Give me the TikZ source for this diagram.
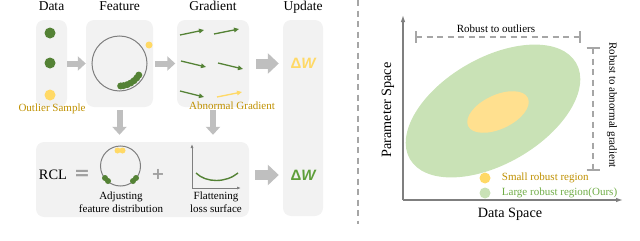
\documentclass[tikz,border=0pt]{standalone}
\usepackage{fontspec}
\setmainfont{Liberation Serif}
\setsansfont{Liberation Sans}
\newfontfamily\symfont{DejaVu Sans}
\usepackage{xcolor}
\usepackage{tikz}
\usetikzlibrary{positioning,arrows.meta,calc}
\definecolor{boxgray}{HTML}{F2F2F2}
\definecolor{arrgray}{HTML}{BFBFBF}
\definecolor{opgray}{HTML}{A0A0A0}
\definecolor{dkgreen}{HTML}{548235}
\definecolor{ltgreen}{HTML}{C9E2B6}
\definecolor{sunny}{HTML}{FFD966}
\definecolor{paleyel}{HTML}{FFE08F}
\definecolor{gold}{HTML}{BF9000}
\definecolor{leafgreen}{HTML}{70AD47}
\definecolor{dwgreen}{HTML}{5E9E3A}
\definecolor{axgray}{HTML}{7F7F7F}
\definecolor{dashgray}{HTML}{A6A6A6}

\begin{document}
\begin{tikzpicture}[x=1pt,y=-1pt,
  panel/.style={fill=boxgray, rounded corners=8pt, inner sep=0pt},
  ttl/.style={font=\fontsize{13.5}{14}\selectfont, inner sep=0pt, text height=9.5pt, text depth=3pt},
  lab/.style={font=\fontsize{11}{13}\selectfont, inner sep=0pt, align=center},
  axl/.style={font=\fontsize{14.2}{16}\selectfont, inner sep=0pt},
  blk/.style={draw=arrgray, line width=6pt, -{Triangle[length=8pt,width=14pt]}},
  bigblk/.style={draw=arrgray, line width=10pt, -{Triangle[length=11pt,width=20pt]}},
  grad/.style={draw=dkgreen, line width=1.3pt, -{Triangle[length=5pt,width=4.5pt]}},
  gdot/.style={circle, fill=dkgreen, minimum size=11pt, inner sep=0pt},
  ydot/.style={circle, fill=sunny, minimum size=11pt, inner sep=0pt},
  ring/.style={circle, draw=axgray, line width=1pt, inner sep=0pt},
  delta/.style={font=\fontsize{15}{15}\selectfont\sffamily\bfseries, inner sep=0pt},
  op/.style={text=opgray, inner sep=0pt},
  axis/.style={draw=axgray, line width=1.2pt, -{Latex[length=7pt,width=4.5pt]}},
  thinax/.style={draw=axgray, line width=0.8pt, -{Latex[length=4pt,width=3pt]}},
  brk/.style={draw=dashgray, line width=1.3pt, dash pattern=on 6pt off 4.5pt},
  tick/.style={draw=dashgray, line width=1.3pt}]
\useasboundingbox (0,0) rectangle (640,241);

\node[panel, minimum width=31pt, minimum height=87pt] (dbox) at (51.5,63.5) {};
\node[panel, minimum width=67pt, minimum height=87pt] (fbox) at (119.5,63.5) {};
\node[panel, minimum width=72pt, minimum height=87pt] (gbox) at (213,63.5) {};
\node[panel, minimum width=40pt, minimum height=196pt] (ubox) at (303,118) {};
\node[panel, minimum width=213pt, minimum height=75pt] (rbox) at (142.5,179.5) {};

\node[ttl, above=6pt of dbox] (tdata) {Data};
\node[ttl, above=6pt of fbox] (tfeat) {Feature};
\node[ttl, above=6pt of gbox] (tgrad) {Gradient};
\node[ttl, above=6pt of ubox] (tupd) {Update};

% data column
\node[gdot] (d1) at (50,33) {};
\node[gdot] (d2) at (50,63) {};
\node[ydot] (d3) at (50,95) {};
\node[lab, text=gold] (outl) at (52,109) {Outlier Sample};

% feature column
\node[ring, minimum size=55pt] (fc) at (fbox.center) {};
\foreach \a in {31,40,50,60,70,80,87}
  \fill[dkgreen] ($(fc.center)+(\a:22.5)$) circle (3.5pt);
\fill[sunny] (149,45) circle (3.5pt);

% gradient column
\draw[grad] (180,35) -- (204,30);
\draw[grad] (214,34) -- (239,29);
\draw[grad] (181,61) -- (206,67);
\draw[grad] (218,63) -- (243,69);
\draw[grad] (180,91) -- (204,97);
\draw[grad, draw=sunny] (217,97) -- (242,92);
\node[lab, text=gold] (abn) at (232,106) {Abnormal Gradient};

\draw[blk] (dbox) -- (fbox);
\draw[blk, shorten <=2pt, shorten >=1.5pt] (fbox) -- (gbox);
\draw[bigblk, shorten <=7pt, shorten >=4pt] (gbox.east) -- (gbox.east -| ubox.west);
\node[delta, text=sunny] (dw1) at (ubox.center |- gbox.center) {Δ\itshape W};

\draw[blk, shorten <=3pt, shorten >=7pt] (fbox.south) -- (fbox.south |- rbox.north);
\draw[blk, shorten <=3pt, shorten >=7pt] (gbox.south) -- (gbox.south |- rbox.north);

% RCL row
\node[font=\fontsize{14.4}{16}\selectfont, inner sep=0pt] (rcl) at (53,175) {RCL};
\node[op, font=\symfont\bfseries\fontsize{19}{19}\selectfont] (eq) at (82,175) {=};
\node[ring, minimum size=40pt] (rc) at (120.5,166) {};
\fill[sunny] (117.5,150.5) circle (3pt) (122.5,150.5) circle (3pt);
\fill[dkgreen] (105,178) circle (3pt) (108,181) circle (3pt)
  (133,181) circle (3pt) (136,178) circle (3pt);
\node[lab] (adj) at (121,202.5) {Adjusting\\feature distribution};
\node[op, font=\symfont\bfseries\fontsize{16}{16}\selectfont] (plus) at (158,174) {+};
\coordinate (lo) at (192,188);
\draw[thinax] (lo) -- ++(0,-44);
\draw[thinax] (lo) -- ++(49,0);
\draw[dkgreen, line width=1.4pt] (196,173) .. controls (206,183) and (226,183) .. (238,173);
\node[lab] (flat) at (216,202.5) {Flattening\\loss surface};

\draw[bigblk, shorten <=6pt, shorten >=4pt] (rbox.east |- rcl) -- (rcl -| ubox.west);
\node[delta, text=dwgreen] (dw2) at (ubox.center |- rcl) {Δ\itshape W};

% right panel
\draw[brk] (358,0) -- (358,224);
\fill[ltgreen, rotate around={30:(493,111)}] (493,111) ellipse [x radius=96pt, y radius=53pt];
\fill[paleyel, rotate around={25:(498,112)}] (498,112) ellipse [x radius=33pt, y radius=17pt];
\coordinate (o) at (403,200);
\coordinate (ytip) at (403,15);
\coordinate (xtip) at (623,200);
\draw[axis] (o) -- (ytip);
\draw[axis] (o) -- (xtip);
\node[axl, rotate=90] (ylab) at (388,110) {Parameter Space};
\node[axl] (xlab) at (510,214) {Data Space};

\coordinate (b1) at (416,37);
\coordinate (b2) at (580,37);
\draw[brk] (b1) -- (b2);
\draw[tick] ($(b1)+(0,-6)$) -- ($(b1)+(0,6)$);
\draw[tick] ($(b2)+(0,-6)$) -- ($(b2)+(0,6)$);
\node[lab] (rout) at (496,29) {Robust to outliers};

\coordinate (c1) at (593,48);
\coordinate (c2) at (593,170);
\draw[brk] (c1) -- (c2);
\draw[tick] ($(c1)+(-6.5,0)$) -- ($(c1)+(6.5,0)$);
\draw[tick] ($(c2)+(-6.5,0)$) -- ($(c2)+(6.5,0)$);
\node[lab, rotate=-90] (rab) at (612,105) {Robust to abnormal gradient};

\node[ydot] (ls) at (485,178) {};
\node[ydot, fill=ltgreen] (ll) at (485,193) {};
\node[lab, text=gold, right=11pt of ls] (lst) {Small robust region};
\node[lab, text=leafgreen, right=11pt of ll] (llt) {Large robust region(Ours)};
\end{tikzpicture}
\end{document}
